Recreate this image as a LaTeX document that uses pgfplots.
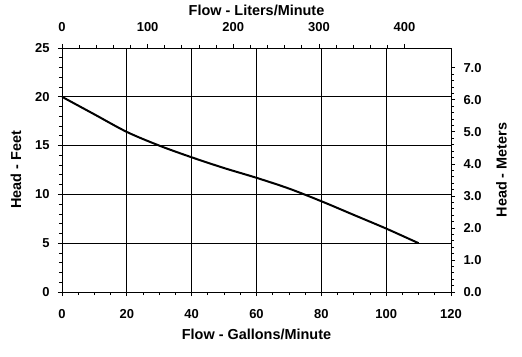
\documentclass[border=0pt]{standalone}
\usepackage{pgfplots}
\pgfplotsset{compat=1.18}
\usepackage{fontspec}
\setmainfont{Liberation Sans}
\begin{document}
\begin{tikzpicture}
\useasboundingbox (-62bp,-65bp) rectangle (460bp,292bp);
\pgfplotsset{every axis/.append style={scale only axis, width=389bp, height=244bp,
  tick align=outside, major tick length=4bp, minor tick length=3bp,
  every tick/.style={black, line width=0.8pt},
  axis line style={line width=0.8pt, -},
  ticklabel style={font=\bfseries\fontsize{13}{15}\selectfont},
  label style={font=\bfseries\fontsize{14.5}{16}\selectfont},
  /pgf/number format/assume math mode=true}}
\begin{axis}[name=main, xmin=0, xmax=120, ymin=0, ymax=25,
  xtick={0,20,...,120}, ytick={0,5,...,25},
  minor x tick num=3, minor y tick num=4, tick pos=left,
  grid=major, major grid style={black, line width=0.8pt},
  xticklabel style={yshift=-10bp},
  yticklabel style={xshift=-5bp},
  xlabel={Flow - Gallons/Minute}, ylabel={Head - Feet},
  xlabel style={at={(axis description cs:0.5,-0.1721)}, anchor=center},
  ylabel style={at={(axis description cs:-0.1183,0.5)}, anchor=center}]
\addplot[black, line width=2pt, smooth, mark=none] coordinates {
(0,20.0) (10,18.2) (20,16.4) (30,15.0) (40,13.8) (50,12.7) (60,11.7)
(70,10.6) (80,9.3) (90,7.9) (100,6.5) (110,5.0)};
\end{axis}
\begin{axis}[xmin=0, xmax=454.25, ymin=0, ymax=7.62,
  axis x line*=top, axis y line*=right,
  xtick={0,100,...,400}, minor x tick num=4,
  ytick={0,1,...,7}, minor y tick num=4,
  xticklabel style={yshift=9bp},
  yticklabel style={xshift=5bp, /pgf/number format/.cd, fixed, fixed zerofill, precision=1},
  xlabel={Flow - Liters/Minute}, ylabel={Head - Meters},
  xlabel style={at={(axis description cs:0.5,1.1557)}, anchor=center},
  ylabel style={at={(axis description cs:1.1298,0.5)}, anchor=center}]
\end{axis}
\end{tikzpicture}
\end{document}
